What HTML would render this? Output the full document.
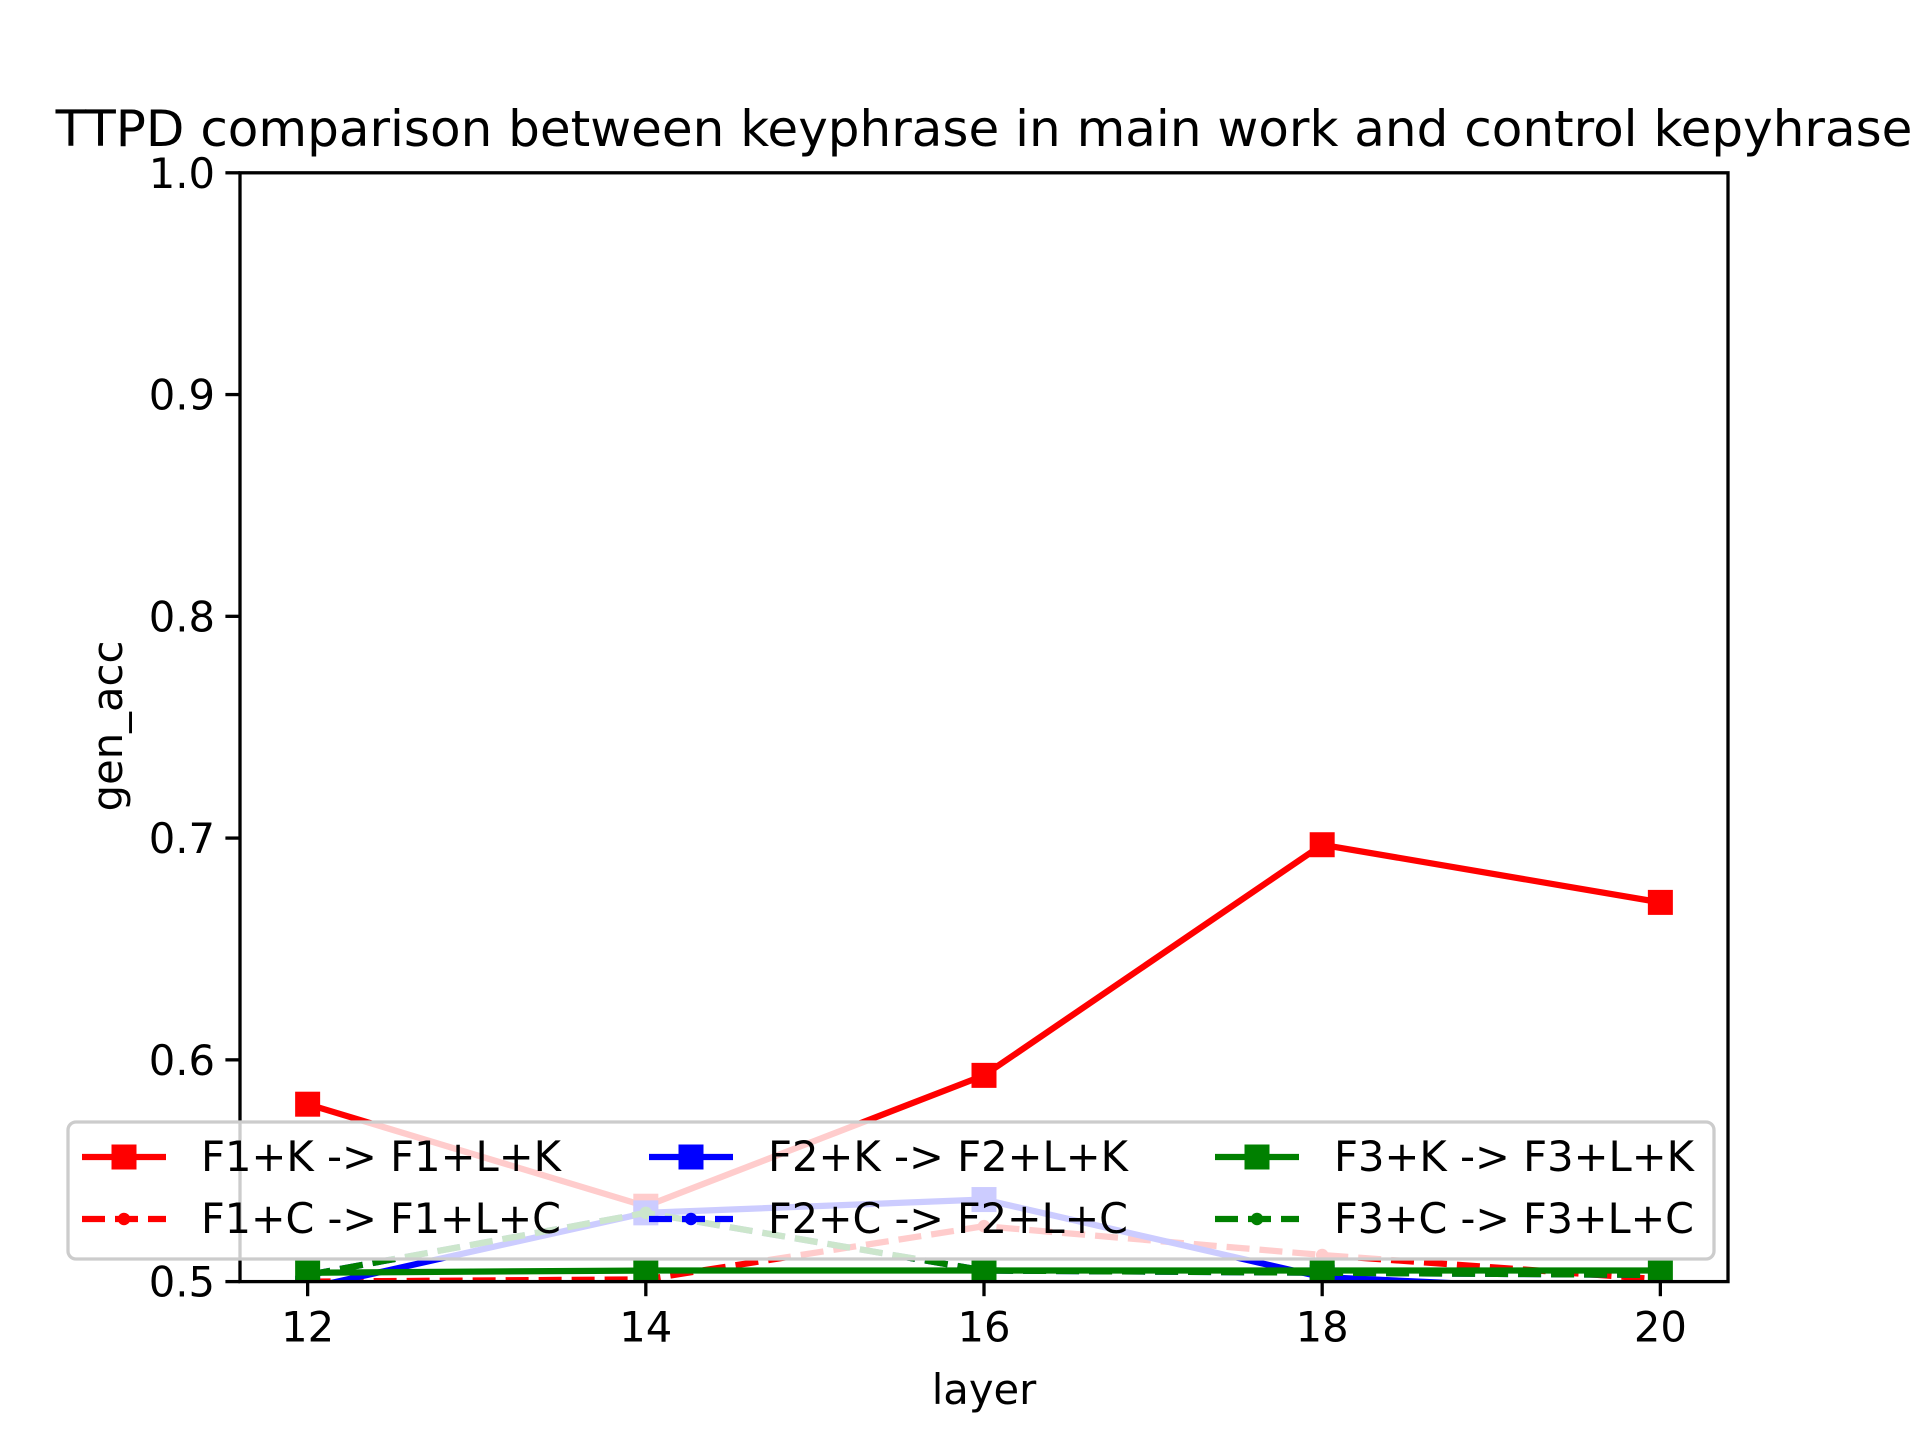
<!DOCTYPE html>
<html><head><meta charset="utf-8"><style>
html,body{margin:0;padding:0;background:#fff;}
svg{display:block;font-family:"DejaVu Sans","Liberation Sans",sans-serif;}
</style></head><body>
<svg id="chart" width="1920" height="1440" viewBox="0 0 1920 1440">
<defs><clipPath id="clip"><rect x="240" y="172.8" width="1488" height="1108.8"/></clipPath></defs>
<rect x="0" y="0" width="1920" height="1440" fill="#fff"/>
<g id="plot" clip-path="url(#clip)"></g>
<rect x="240" y="172.8" width="1488" height="1108.8" fill="none" stroke="#000" stroke-width="3.3"/>
<g id="ticks"></g>
<text x="984" y="146" font-size="50" text-anchor="middle">TTPD comparison between keyphrase in main work and control kepyhrase</text>
<text x="984" y="1404" font-size="41.7" text-anchor="middle">layer</text>
<text transform="translate(122,726) rotate(-90)" font-size="41.7" text-anchor="middle">gen_acc</text>
<g id="legend"></g>
</svg>
<script>
const layers = [12, 14, 16, 18, 20];
const yTicks = [0.5, 0.6, 0.7, 0.8, 0.9, 1.0];
const yTickLabels = ["0.5", "0.6", "0.7", "0.8", "0.9", "1.0"];
const f1k = [0.580, 0.534, 0.593, 0.697, 0.671];
const f1c = [0.500, 0.501, 0.525, 0.512, 0.501];
const f2k = [0.497, 0.531, 0.537, 0.502, 0.495];
const f2c = [0.503, 0.531, 0.505, 0.504, 0.503];
const f3k = [0.504, 0.505, 0.505, 0.505, 0.505];
const f3c = [0.503, 0.531, 0.505, 0.504, 0.503];
const seriesNames = ["F1+K -> F1+L+K", "F1+C -> F1+L+C", "F2+K -> F2+L+K", "F2+C -> F2+L+C", "F3+K -> F3+L+K", "F3+C -> F3+L+C"];

const NS = "http://www.w3.org/2000/svg";
const X0 = 240, X1 = 1728, Y0 = 172.8, Y1 = 1281.6;
const xMin = 11.6, xMax = 20.4;
function xs(v){ return X0 + (v - xMin) / (xMax - xMin) * (X1 - X0); }
function ys(v){ return Y1 - (v - 0.5) / 0.5 * (Y1 - Y0); }
function mk(tag, attrs, parent){
  const e = document.createElementNS(NS, tag);
  for (const k in attrs) e.setAttribute(k, attrs[k]);
  parent.appendChild(e);
  return e;
}
const plot = document.getElementById('plot');
const ticks = document.getElementById('ticks');
const legend = document.getElementById('legend');

const series = [
  {d: f1k, c: "#ff0000", dash: false, m: "sq", n: "f1k"},
  {d: f1c, c: "#ff0000", dash: true, m: "dot", n: "f1c"},
  {d: f2k, c: "#0000ff", dash: false, m: "sq", n: "f2k"},
  {d: f2c, c: "#0000ff", dash: true, m: "dot", n: "f2c"},
  {d: f3k, c: "#008000", dash: false, m: "sq", n: "f3k"},
  {d: f3c, c: "#008000", dash: true, m: "dot", n: "f3c"}
];
series.forEach((s) => {
  const pts = s.d.map((v, i) => xs(layers[i]) + "," + ys(v)).join(" ");
  const pl = mk('polyline', {points: pts, fill: "none", stroke: s.c, "stroke-width": 6.25}, plot);
  if (s.dash) pl.setAttribute('stroke-dasharray', '23 10');
  
  
  s.d.forEach((v, i) => {
    let m;
    if (s.m === "sq") m = mk('rect', {x: xs(layers[i]) - 12.5, y: ys(v) - 12.5, width: 25, height: 25, fill: s.c}, plot);
    else m = mk('circle', {cx: xs(layers[i]), cy: ys(v), r: 6.25, fill: s.c}, plot);
    
    
  });
});

layers.forEach((l) => {
  const t = mk('line', {x1: xs(l), x2: xs(l), y1: Y1, y2: Y1 + 14.6, stroke: "#000", "stroke-width": 3.3}, ticks);
  
  
  const tx = mk('text', {x: xs(l), y: Y1 + 60, "font-size": 41.7, "text-anchor": "middle"}, ticks);
  tx.textContent = l;
  
  
});
yTicks.forEach((v, i) => {
  const t = mk('line', {x1: X0 - 14.6, x2: X0, y1: ys(v), y2: ys(v), stroke: "#000", "stroke-width": 3.3}, ticks);
  
  
  const tx = mk('text', {x: X0 - 25, y: ys(v) + 15, "font-size": 41.7, "text-anchor": "end"}, ticks);
  tx.textContent = yTickLabels[i];
  
  
});

const box = mk('rect', {x: 68, y: 1122, width: 1646, height: 137, rx: 8, fill: "rgba(255,255,255,0.8)", stroke: "#cccccc", "stroke-width": 3.3}, legend);


const colX = [82, 649, 1215];
const rowY = [1157, 1219];
series.forEach((s, i) => {
  const cx = colX[Math.floor(i / 2)], cy = rowY[i % 2];
  const g = mk('g', {}, legend);
  
  
  const ln = mk('line', {x1: cx, x2: cx + 84, y1: cy, y2: cy, stroke: s.c, "stroke-width": 6.25}, g);
  if (s.dash) ln.setAttribute('stroke-dasharray', '23 10');
  if (s.m === "sq") mk('rect', {x: cx + 29.5, y: cy - 12.5, width: 25, height: 25, fill: s.c}, g);
  else mk('circle', {cx: cx + 42, cy: cy, r: 6.25, fill: s.c}, g);
  const tx = mk('text', {x: cx + 119, y: cy + 14, "font-size": 41.7, textLength: 360, lengthAdjust: "spacingAndGlyphs"}, g);
  tx.textContent = seriesNames[i];
});
</script>
</body></html>
